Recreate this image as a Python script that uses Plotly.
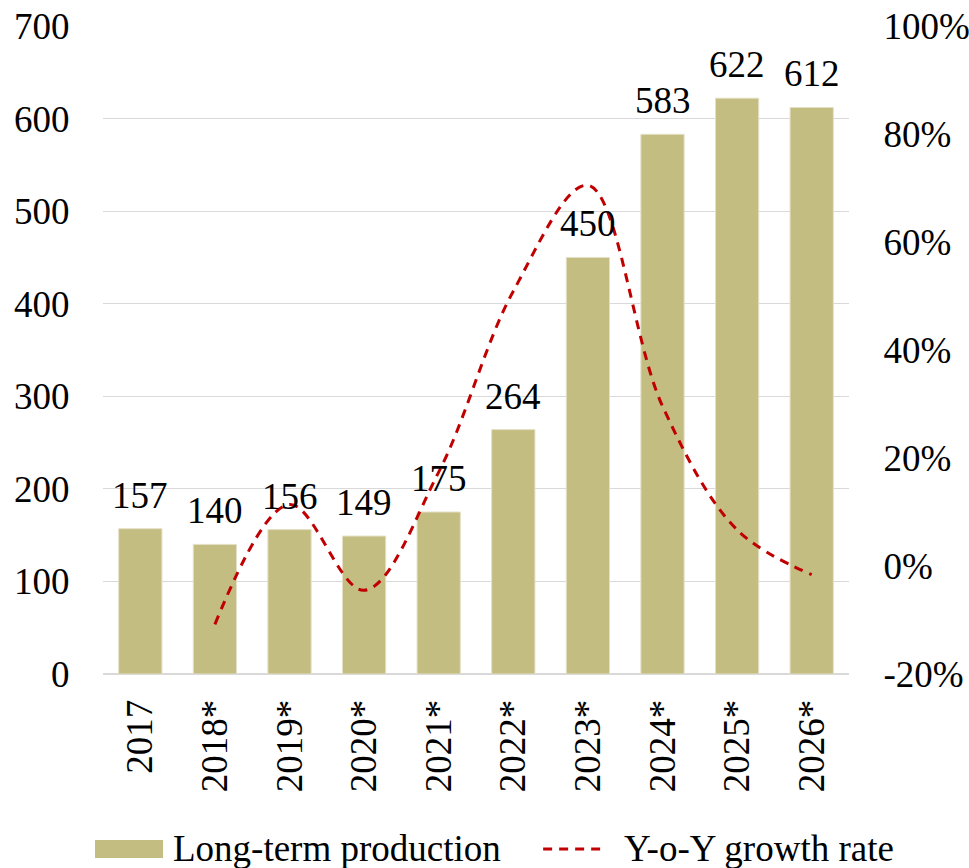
import plotly.graph_objects as go

years = ["2017", "2018*", "2019*", "2020*", "2021*", "2022*", "2023*", "2024*", "2025*", "2026*"]
production = [157, 140, 156, 149, 175, 264, 450, 583, 622, 612]
growth_years = ["2018*", "2019*", "2020*", "2021*", "2022*", "2023*", "2024*", "2025*", "2026*"]
growth = [-0.108, 0.114, -0.045, 0.174, 0.509, 0.705, 0.296, 0.067, -0.016]
left_ticks = [0, 100, 200, 300, 400, 500, 600, 700]
right_tickvals = [-0.2, 0.0, 0.2, 0.4, 0.6, 0.8, 1.0]
right_ticktext = ["-20%", "0%", "20%", "40%", "60%", "80%", "100%"]

FONT = "Liberation Serif, Times New Roman, serif"
FS = 37
BAR_COLOR = "#C4BD82"
LINE_COLOR = "#C00000"
GRID = "#D9D9D9"

fig = go.Figure()
fig.add_trace(go.Bar(
    x=years, y=production, name="Long-term production",
    marker=dict(color=BAR_COLOR, line=dict(color="#E4E0C6", width=1)),
    showlegend=False,
))
fig.add_trace(go.Scatter(
    x=growth_years, y=growth, name="Y-o-Y growth rate", yaxis="y2",
    mode="lines", showlegend=False,
    line=dict(color=LINE_COLOR, width=3, dash="9px,7px", shape="spline", smoothing=1.0),
))

# value labels above bars (category index positions on the category axis)
for idx, val in enumerate(production):
    fig.add_annotation(x=idx, y=val, xref="x", yref="y", text=str(val),
                       showarrow=False, yanchor="bottom", yshift=11,
                       font=dict(size=FS, family=FONT, color="black"))

# custom legend
fig.add_shape(type="rect", xref="paper", yref="paper",
              x0=-0.0107, x1=0.0804, y0=-0.256, y1=-0.284,
              fillcolor=BAR_COLOR, line=dict(width=0))
fig.add_annotation(xref="paper", yref="paper", x=0.0912, y=-0.270,
                   text="Long-term production", showarrow=False,
                   xanchor="left", yanchor="middle", font=dict(size=FS, family=FONT, color="black"))
fig.add_shape(type="line", xref="paper", yref="paper",
              x0=0.590, x1=0.669, y0=-0.270, y1=-0.270,
              line=dict(color=LINE_COLOR, width=3, dash="9px,7px"))
fig.add_annotation(xref="paper", yref="paper", x=0.696, y=-0.270,
                   text="Y-o-Y growth rate", showarrow=False,
                   xanchor="left", yanchor="middle", font=dict(size=FS, family=FONT, color="black"))

fig.update_layout(
    width=969, height=868,
    margin=dict(l=103, r=120, t=26, b=194, autoexpand=False),
    paper_bgcolor="white", plot_bgcolor="white",
    font=dict(family=FONT, size=FS, color="black"),
    bargap=0.42,
    showlegend=False,
    xaxis=dict(
        type="category", categoryorder="array", categoryarray=years,
        range=[-0.5, len(years) - 0.5],
        tickangle=-90, ticks="outside", ticklen=10, tickcolor="rgba(0,0,0,0)",
        tickfont=dict(size=FS), showline=False, showgrid=False, automargin=False,
        ticklabeloverflow="allow",
    ),
    yaxis=dict(
        range=[0, 700.01], tickvals=left_ticks, showgrid=True, gridcolor=GRID, gridwidth=1.3,
        zeroline=True, zerolinecolor=GRID, zerolinewidth=1.5,
        ticks="outside", ticklen=25, tickcolor="rgba(0,0,0,0)",
        tickfont=dict(size=FS), showline=False, automargin=False,
        ticklabeloverflow="allow",
    ),
    yaxis2=dict(
        range=[-0.2, 1.0001], tickvals=right_tickvals, ticktext=right_ticktext,
        overlaying="y", side="right",
        showgrid=False, zeroline=False,
        ticks="outside", ticklen=26, tickcolor="rgba(0,0,0,0)",
        tickfont=dict(size=FS), showline=False, automargin=False,
        ticklabeloverflow="allow",
    ),
)

fig.write_html(
    "out.html",
    config={"displayModeBar": False},
    post_script="document.body.style.margin='0';document.documentElement.style.overflow='hidden';",
)
